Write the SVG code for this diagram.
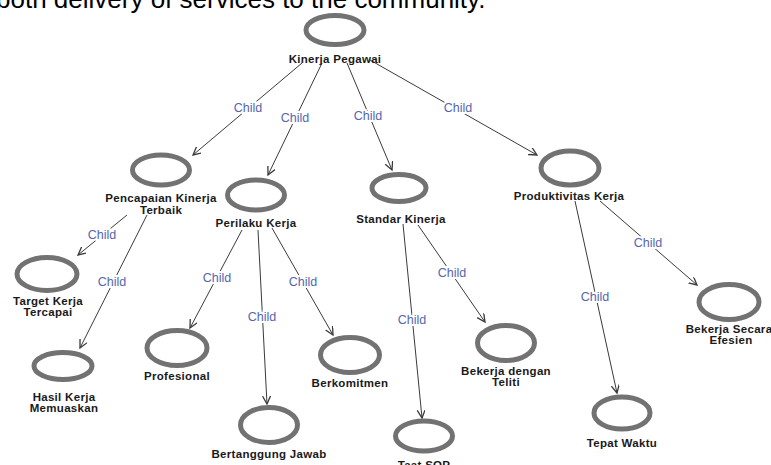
<svg xmlns="http://www.w3.org/2000/svg" width="771" height="465" viewBox="0 0 771 465">
<defs>
<style>
.node ellipse{fill:#fff;stroke:#727272;stroke-width:5}
.node text{font-family:"Liberation Sans",Arial,sans-serif;font-size:11.5px;font-weight:bold;letter-spacing:0.3px;fill:#1a1a1a;text-anchor:middle}
.edges line{stroke:#3a3a3a;stroke-width:1;marker-end:url(#arr)}
.edges text{font-family:"Liberation Sans",Arial,sans-serif;font-size:12.5px;fill:#5566b0;text-anchor:middle;stroke:#fff;stroke-width:4;paint-order:stroke}
.cap{font-family:"Liberation Sans",Arial,sans-serif;font-size:26px;fill:#000}
</style>
<marker id="arr" markerWidth="10" markerHeight="10" refX="8" refY="4" orient="auto" markerUnits="userSpaceOnUse">
<path d="M0,0 L8,4 L0,8" fill="none" stroke="#3a3a3a" stroke-width="1.3"/>
</marker>
</defs>
<rect width="771" height="465" fill="#fff"/>
<text class="cap" x="-4" y="8">both delivery of services to the community.</text>

<g id="connectors" class="edges">
<line x1="302" y1="63" x2="193" y2="155"/>
<line x1="322" y1="63" x2="268" y2="175"/>
<line x1="347" y1="63" x2="392" y2="170"/>
<line x1="370" y1="60" x2="537" y2="155"/>
<line x1="127" y1="215" x2="78" y2="255"/>
<line x1="147" y1="215" x2="80" y2="348"/>
<line x1="242" y1="230" x2="190" y2="328"/>
<line x1="258" y1="230" x2="267" y2="404"/>
<line x1="272" y1="228" x2="333" y2="335"/>
<line x1="403" y1="224" x2="422" y2="418"/>
<line x1="418" y1="225" x2="485" y2="322"/>
<line x1="575" y1="201" x2="617" y2="393"/>
<line x1="600" y1="201" x2="697" y2="285"/>
<text x="248" y="112">Child</text>
<text x="295" y="122">Child</text>
<text x="368" y="120">Child</text>
<text x="458" y="112">Child</text>
<text x="102" y="239">Child</text>
<text x="112" y="286">Child</text>
<text x="217" y="282">Child</text>
<text x="262" y="321">Child</text>
<text x="303" y="286">Child</text>
<text x="412" y="324">Child</text>
<text x="452" y="277">Child</text>
<text x="595" y="301">Child</text>
<text x="648" y="247">Child</text>
</g>

<g id="n-kinerja-pegawai" class="node"><ellipse cx="335" cy="30" rx="29" ry="14.5"/><text x="335" y="63">Kinerja Pegawai</text></g>
<g id="n-pencapaian" class="node"><ellipse cx="161" cy="170" rx="28.5" ry="15"/><text x="161" y="202">Pencapaian Kinerja</text><text x="161" y="214">Terbaik</text></g>
<g id="n-perilaku" class="node"><ellipse cx="256" cy="195" rx="28.5" ry="15"/><text x="256" y="227">Perilaku Kerja</text></g>
<g id="n-standar" class="node"><ellipse cx="399" cy="188" rx="27" ry="13.5"/><text x="401" y="223">Standar Kinerja</text></g>
<g id="n-produktivitas" class="node"><ellipse cx="570" cy="168" rx="29" ry="17"/><text x="569" y="200">Produktivitas Kerja</text></g>
<g id="n-target" class="node"><ellipse cx="47" cy="274" rx="30" ry="16.5"/><text x="48" y="305">Target Kerja</text><text x="48" y="316">Tercapai</text></g>
<g id="n-hasil" class="node"><ellipse cx="63" cy="366" rx="29" ry="13.5"/><text x="64" y="401">Hasil Kerja</text><text x="64" y="412">Memuaskan</text></g>
<g id="n-profesional" class="node"><ellipse cx="177" cy="348" rx="30" ry="17.5"/><text x="177" y="380">Profesional</text></g>
<g id="n-bertanggung" class="node"><ellipse cx="269" cy="425" rx="28.5" ry="17.5"/><text x="269" y="458">Bertanggung Jawab</text></g>
<g id="n-berkomitmen" class="node"><ellipse cx="350" cy="355" rx="29.5" ry="17.5"/><text x="350" y="387">Berkomitmen</text></g>
<g id="n-taat-sop" class="node"><ellipse cx="424" cy="436" rx="28.5" ry="15"/><text x="424" y="469">Taat SOP</text></g>
<g id="n-teliti" class="node"><ellipse cx="506" cy="343" rx="28.5" ry="17.5"/><text x="506" y="375">Bekerja dengan</text><text x="506" y="386">Teliti</text></g>
<g id="n-efesien" class="node"><ellipse cx="729" cy="302" rx="30" ry="17.5"/><text x="729" y="333">Bekerja Secara</text><text x="731" y="344">Efesien</text></g>
<g id="n-tepat-waktu" class="node"><ellipse cx="622" cy="413" rx="28" ry="16"/><text x="622" y="447">Tepat Waktu</text></g>
</svg>
